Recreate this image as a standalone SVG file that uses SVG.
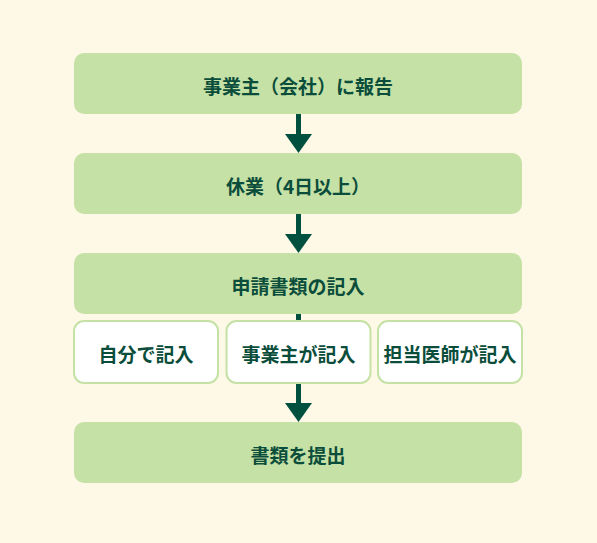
<svg xmlns="http://www.w3.org/2000/svg" width="597" height="543" viewBox="0 0 597 543">
<style>
.main{fill:#c5e1a5}
.sub{fill:#ffffff;stroke:#c5e1a5;stroke-width:2}
.t{font-family:"Noto Sans CJK JP","Noto Sans",sans-serif;font-weight:bold;font-size:19px;fill:#0b4d3b;text-anchor:middle;dominant-baseline:central}
.ln{stroke:#005040;stroke-width:5;fill:none}
.hd{fill:#005040}
</style>
<rect width="597" height="543" fill="#fef9e7"/>
<g id="connectors">
<line class="ln" x1="298.5" y1="114" x2="298.5" y2="136"/>
<polygon class="hd" points="285,134 312,134 298.5,153"/>
<line class="ln" x1="298.5" y1="214" x2="298.5" y2="236"/>
<polygon class="hd" points="285,234 312,234 298.5,253"/>
<line class="ln" x1="298.5" y1="314" x2="298.5" y2="321"/>
<line class="ln" x1="298.5" y1="383" x2="298.5" y2="405"/>
<polygon class="hd" points="285,403 312,403 298.5,422"/>
</g>
<g id="n1"><rect class="main" x="74" y="53" width="448" height="61" rx="10"/><text class="t" x="298" y="85">事業主（会社）に報告</text></g>
<g id="n2"><rect class="main" x="74" y="153" width="448" height="61" rx="10"/><text class="t" x="298" y="185">休業（4日以上）</text></g>
<g id="n3"><rect class="main" x="74" y="253" width="448" height="61" rx="10"/><text class="t" x="298" y="285">申請書類の記入</text></g>
<g id="s1"><rect class="sub" x="74" y="321" width="144" height="62" rx="10"/><text class="t" x="146" y="353">自分で記入</text></g>
<g id="s2"><rect class="sub" x="226.5" y="321" width="144" height="62" rx="10"/><text class="t" x="298.5" y="353">事業主が記入</text></g>
<g id="s3"><rect class="sub" x="378" y="321" width="144" height="62" rx="10"/><text class="t" x="450" y="353">担当医師が記入</text></g>
<g id="n4"><rect class="main" x="74" y="422" width="448" height="61" rx="10"/><text class="t" x="298" y="454">書類を提出</text></g>
</svg>
